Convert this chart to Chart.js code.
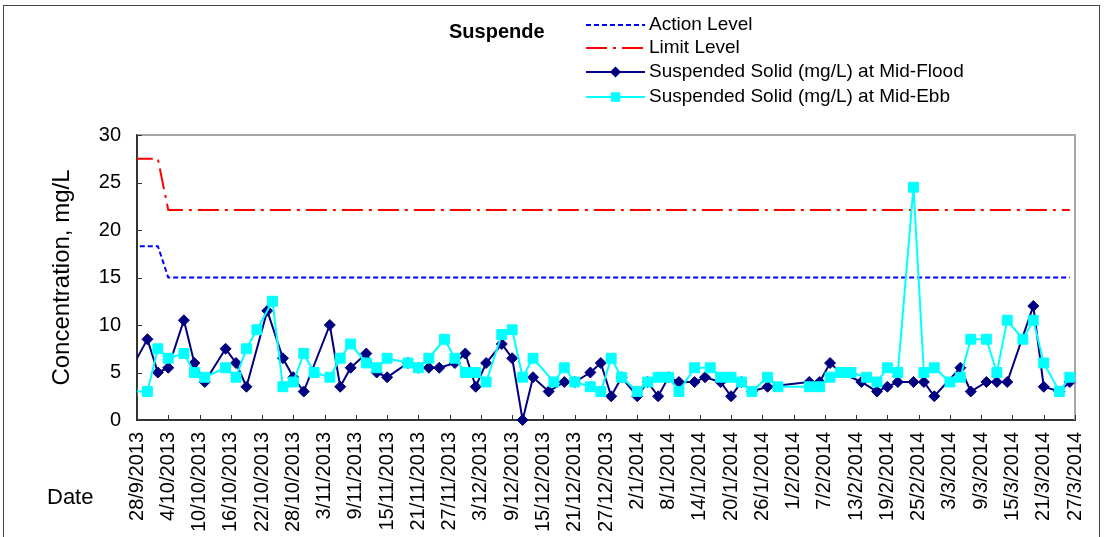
<!DOCTYPE html>
<html>
<head>
<meta charset="utf-8">
<script src="https://cdn.jsdelivr.net/npm/chart.js@4.4.1/dist/chart.umd.min.js"></script>
<style>
  html, body { margin: 0; padding: 0; background: #fff; }
  canvas { display: block; }
</style>
</head>
<body>
<canvas id="ssChart" width="1104" height="537"></canvas>
<script>
// x axis tick labels, every 6 days
const tickLabels = [
  "28/9/2013", "4/10/2013", "10/10/2013", "16/10/2013", "22/10/2013", "28/10/2013",
  "3/11/2013", "9/11/2013", "15/11/2013", "21/11/2013", "27/11/2013", "3/12/2013",
  "9/12/2013", "15/12/2013", "21/12/2013", "27/12/2013", "2/1/2014", "8/1/2014",
  "14/1/2014", "20/1/2014", "26/1/2014", "1/2/2014", "7/2/2014", "13/2/2014",
  "19/2/2014", "25/2/2014", "3/3/2014", "9/3/2014", "15/3/2014", "21/3/2014", "27/3/2014"
];

// action / limit levels
const levelDates = ["27/9/2013", "2/10/2013", "4/10/2013", "26/3/2014"];
const actionLevel = [18.3, 18.3, 15.0, 15.0];
const limitLevel = [27.5, 27.5, 22.1, 22.1];

// mid-flood
const floodDates = [
  "27/9/2013", "30/9/2013", "2/10/2013", "4/10/2013", "7/10/2013", "9/10/2013", "11/10/2013",
  "15/10/2013", "17/10/2013", "19/10/2013", "23/10/2013", "26/10/2013", "28/10/2013", "30/10/2013",
  "4/11/2013", "6/11/2013", "8/11/2013", "11/11/2013", "13/11/2013", "15/11/2013", "19/11/2013",
  "21/11/2013", "23/11/2013", "25/11/2013", "28/11/2013", "30/11/2013", "2/12/2013", "4/12/2013",
  "7/12/2013", "9/12/2013", "11/12/2013", "13/12/2013", "16/12/2013", "19/12/2013", "21/12/2013",
  "24/12/2013", "26/12/2013", "28/12/2013", "30/12/2013", "2/1/2014", "4/1/2014", "6/1/2014",
  "8/1/2014", "10/1/2014", "13/1/2014", "15/1/2014", "18/1/2014", "20/1/2014", "22/1/2014",
  "24/1/2014", "27/1/2014", "4/2/2014", "6/2/2014", "8/2/2014", "10/2/2014", "14/2/2014",
  "17/2/2014", "19/2/2014", "21/2/2014", "24/2/2014", "26/2/2014", "28/2/2014", "5/3/2014",
  "7/3/2014", "10/3/2014", "12/3/2014", "14/3/2014", "19/3/2014", "21/3/2014", "24/3/2014", "26/3/2014"
];
const floodSS = [
  5.5, 8.5, 5.0, 5.5, 10.5, 6.0, 4.0,
  7.5, 6.0, 3.5, 11.5, 6.5, 4.5, 3.0,
  10.0, 3.5, 5.5, 7.0, 5.0, 4.5, 6.0,
  5.5, 5.5, 5.5, 6.0, 7.0, 3.5, 6.0,
  8.0, 6.5, 0.0, 4.5, 3.0, 4.0, 4.0,
  5.0, 6.0, 2.5, 4.5, 2.5, 4.0, 2.5,
  4.5, 4.0, 4.0, 4.5, 4.0, 2.5, 4.0,
  3.0, 3.5, 4.0, 4.0, 6.0, 5.0, 4.0,
  3.0, 3.5, 4.0, 4.0, 4.0, 2.5, 5.5,
  3.0, 4.0, 4.0, 4.0, 12.0, 3.5, 3.0, 4.0
];

// mid-ebb
const ebbDates = [
  "27/9/2013", "30/9/2013", "2/10/2013", "4/10/2013", "7/10/2013", "9/10/2013", "11/10/2013",
  "15/10/2013", "17/10/2013", "19/10/2013", "21/10/2013", "24/10/2013", "26/10/2013", "28/10/2013",
  "30/10/2013", "1/11/2013", "4/11/2013", "6/11/2013", "8/11/2013", "11/11/2013", "13/11/2013",
  "15/11/2013", "19/11/2013", "21/11/2013", "23/11/2013", "26/11/2013", "28/11/2013", "30/11/2013",
  "2/12/2013", "4/12/2013", "7/12/2013", "9/12/2013", "11/12/2013", "13/12/2013", "17/12/2013",
  "19/12/2013", "21/12/2013", "24/12/2013", "26/12/2013", "28/12/2013", "30/12/2013", "2/1/2014",
  "4/1/2014", "6/1/2014", "8/1/2014", "10/1/2014", "13/1/2014", "16/1/2014", "18/1/2014",
  "20/1/2014", "22/1/2014", "24/1/2014", "27/1/2014", "29/1/2014", "4/2/2014", "6/2/2014",
  "8/2/2014", "10/2/2014", "12/2/2014", "15/2/2014", "17/2/2014", "19/2/2014", "21/2/2014",
  "24/2/2014", "26/2/2014", "28/2/2014", "3/3/2014", "5/3/2014", "7/3/2014", "10/3/2014",
  "12/3/2014", "14/3/2014", "17/3/2014", "19/3/2014", "21/3/2014", "24/3/2014", "26/3/2014"
];
const ebbSS = [
  3.0, 3.0, 7.5, 6.5, 7.0, 5.0, 4.5,
  5.5, 4.5, 7.5, 9.5, 12.5, 3.5, 4.0,
  7.0, 5.0, 4.5, 6.5, 8.0, 6.0, 5.5,
  6.5, 6.0, 5.5, 6.5, 8.5, 6.5, 5.0,
  5.0, 4.0, 9.0, 9.5, 4.5, 6.5, 4.0,
  5.5, 4.0, 3.5, 3.0, 6.5, 4.5, 3.0,
  4.0, 4.5, 4.5, 3.0, 5.5, 5.5, 4.5,
  4.5, 4.0, 3.0, 4.5, 3.5, 3.5, 3.5,
  4.5, 5.0, 5.0, 4.5, 4.0, 5.5, 5.0,
  24.5, 5.0, 5.5, 4.0, 4.5, 8.5, 8.5,
  5.0, 10.5, 8.5, 10.5, 6.0, 3.0, 4.5
];

const FONT = '"Liberation Sans", Arial, sans-serif';
Chart.defaults.font.family = FONT;
Chart.defaults.color = "#000";

// days since the first tick date
function dayOf(s) {
  const [d, m, y] = s.split("/").map(Number);
  const [d0, m0, y0] = tickLabels[0].split("/").map(Number);
  return (Date.UTC(y, m - 1, d) - Date.UTC(y0, m0 - 1, d0)) / 86400000;
}
const toPoints = (dates, vals) => dates.map((d, i) => ({ x: dayOf(d), y: vals[i] }));

const seriesClip = { left: 0, top: 10, right: 10, bottom: 10 };

const datasets = [
  {
    label: "Suspended Solid (mg/L) at Mid-Ebb",
    data: toPoints(ebbDates, ebbSS),
    borderColor: "#00FFFF",
    backgroundColor: "#00FFFF",
    borderWidth: 2,
    pointStyle: "rect",
    pointRadius: 7,
    pointBorderWidth: 1,
    clip: seriesClip,
    order: 0
  },
  {
    label: "Suspended Solid (mg/L) at Mid-Flood",
    data: toPoints(floodDates, floodSS),
    borderColor: "#000080",
    backgroundColor: "#000080",
    borderWidth: 2,
    pointStyle: "rectRot",
    pointRadius: 5.5,
    pointBorderWidth: 1,
    clip: seriesClip,
    order: 1
  },
  {
    label: "Limit Level",
    data: toPoints(levelDates, limitLevel),
    borderColor: "#FF0000",
    borderWidth: 2,
    borderDash: [21, 6, 3, 6],
    pointRadius: 0,
    order: 2
  },
  {
    label: "Action Level",
    data: toPoints(levelDates, actionLevel),
    borderColor: "#0000FF",
    borderWidth: 2,
    borderDash: [5, 3],
    pointRadius: 0,
    order: 3
  }
];

// legend rows in the reference order
const legendOrder = ["Action Level", "Limit Level",
  "Suspended Solid (mg/L) at Mid-Flood", "Suspended Solid (mg/L) at Mid-Ebb"];

const decorations = {
  id: "decorations",
  beforeDatasetsDraw(chart) {
    const { ctx, chartArea: a, scales: { x, y } } = chart;
    ctx.save();
    // plot area frame (top, right)
    ctx.strokeStyle = "#A6A6A6";
    ctx.lineWidth = 2;
    ctx.beginPath();
    ctx.moveTo(a.left, a.top);
    ctx.lineTo(a.right, a.top);
    ctx.lineTo(a.right, a.bottom);
    ctx.stroke();
    // inward tick marks
    ctx.strokeStyle = "#333";
    ctx.lineWidth = 1;
    ctx.beginPath();
    x.ticks.forEach(t => {
      const px = Math.round(x.getPixelForValue(t.value)) + 0.5;
      ctx.moveTo(px, a.bottom);
      ctx.lineTo(px, a.bottom - 5);
    });
    y.ticks.forEach(t => {
      const py = Math.round(y.getPixelForValue(t.value)) + 0.5;
      ctx.moveTo(a.left, py);
      ctx.lineTo(a.left + 5, py);
    });
    ctx.stroke();
    ctx.restore();
  },
  afterDraw(chart) {
    const { ctx } = chart;
    ctx.save();
    // outer chart border
    ctx.strokeStyle = "#444";
    ctx.lineWidth = 1;
    ctx.strokeRect(3.5, 5.5, 1096, 540);

    ctx.fillStyle = "#000";
    ctx.textBaseline = "middle";
    ctx.textAlign = "left";
    ctx.font = "bold 20px " + FONT;
    ctx.fillText("Suspende", 449, 32);
    ctx.font = "22px " + FONT;
    ctx.fillText("Date", 47, 498);

    // legend
    const x0 = 586, x1 = 645, rows = [25, 48, 72, 97];
    legendOrder.forEach((name, i) => {
      const ds = chart.data.datasets.find(d => d.label === name);
      const yy = rows[i];
      ctx.strokeStyle = ds.borderColor;
      ctx.lineWidth = ds.borderWidth;
      ctx.setLineDash(ds.borderDash || []);
      ctx.beginPath();
      ctx.moveTo(x0, yy);
      ctx.lineTo(x1, yy);
      ctx.stroke();
      ctx.setLineDash([]);
      if (ds.pointRadius) {
        ctx.fillStyle = ds.backgroundColor;
        ctx.strokeStyle = ds.borderColor;
        Chart.helpers.drawPoint(ctx, {
          pointStyle: ds.pointStyle, radius: ds.pointRadius * 0.75, borderWidth: 1, rotation: 0
        }, (x0 + x1) / 2, yy);
      }
      ctx.fillStyle = "#000";
      ctx.font = "19px " + FONT;
      ctx.fillText(name, 649, yy);
    });
    ctx.restore();
  }
};

new Chart(document.getElementById("ssChart"), {
  type: "line",
  data: { datasets },
  options: {
    responsive: false,
    animation: false,
    events: [],
    layout: { padding: { top: 135, left: 0, right: 29, bottom: 0 } },
    elements: { line: { tension: 0 } },
    scales: {
      x: {
        type: "linear",
        min: 0,
        max: 180,
        afterFit: s => {
          s.height = 117;
          s.paddingLeft = 0;
          s.paddingRight = 0;
        },
        afterBuildTicks: s => { s.ticks = tickLabels.map((_, i) => ({ value: i * 6 })); },
        grid: { display: false, drawTicks: false },
        border: { display: true, color: "#333", width: 2 },
        ticks: {
          autoSkip: false,
          minRotation: 90,
          maxRotation: 90,
          padding: 12,
          font: { size: 20 },
          callback: v => tickLabels[Math.round(v / 6)]
        }
      },
      y: {
        min: 0,
        max: 30,
        afterFit: s => { s.width = 137; },
        grid: { display: false, drawTicks: false },
        border: { display: true, color: "#333", width: 2 },
        ticks: { stepSize: 5, padding: 16, font: { size: 20 } },
        title: {
          display: true,
          text: "Concentration, mg/L",
          font: { size: 24 },
          padding: { top: 48, bottom: 0 }
        }
      }
    },
    plugins: {
      legend: { display: false },
      tooltip: { enabled: false }
    }
  },
  plugins: [decorations]
});
</script>
</body>
</html>
